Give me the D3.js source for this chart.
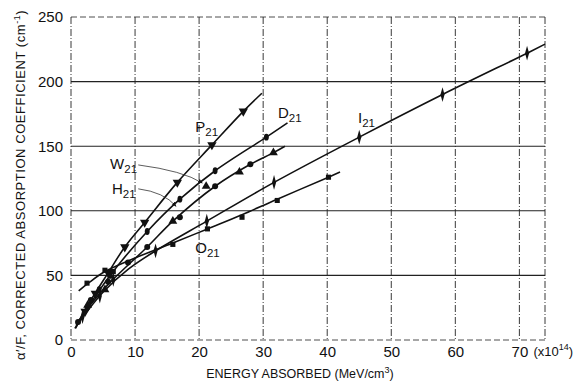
<!DOCTYPE html>
<html>
<head>
<meta charset="utf-8">
<script src="https://cdn.jsdelivr.net/npm/d3@7"></script>
<style>
body { margin: 0; background: #fff; }
text { font-family: 'Liberation Sans', Arial, sans-serif; fill: #111; }
</style>
</head>
<body>
<div class="container"></div>
<script>
// tick values
var xTicks = [0, 10, 20, 30, 40, 50, 60, 70];
var yTicks = [0, 50, 100, 150, 200, 250];

// measured points, [energy (x10^14 MeV/cm3), alpha'/F (cm-1)]
var p21Points = [[2.2, 22], [3.8, 36], [5.8, 52], [8.4, 72], [11.5, 91], [16.6, 122], [22, 151], [26.9, 177]];
var d21Points = [[2.5, 25], [4.4, 39], [6.1, 50], [11.9, 84], [17, 109], [22.5, 131], [30.5, 157]];
var w21Points = [[2.6, 27], [5.3, 39], [15.9, 92], [21.1, 119], [26.3, 130], [31.6, 145]];
var h21Points = [[1.1, 14], [3.1, 31], [5.8, 45], [8.9, 60], [11.9, 72], [17, 95], [22.5, 119], [28, 136]];
var i21Points = [[1.8, 18], [4.5, 34], [6.6, 47], [13.2, 69], [21.2, 92], [31.7, 122], [45, 157], [58, 190], [71.2, 222]];
var o21Points = [[2.5, 44], [5.3, 54], [6.6, 53], [15.9, 74], [21.3, 86], [26.7, 95], [32.2, 108], [40.2, 126]];

// hand drawn curves
var p21Curve = [[0.7, 9], [3, 30], [5.8, 52], [8.4, 72], [11.5, 91], [16.6, 122], [22, 151], [26.9, 177], [29.8, 191]];
var d21Curve = [[0.8, 12], [3, 28], [6.1, 50], [11.9, 84], [17, 109], [22.5, 131], [30.5, 157], [33.8, 168]];
var w21Curve = [[0.8, 11], [3, 27], [6, 44], [11.9, 72], [15.9, 92], [22.5, 119], [28, 136], [31.6, 145], [33.4, 150]];
var i21Curve = [[0.6, 9], [2.5, 22], [5, 37], [9, 55], [13.2, 69], [21.2, 92], [31.7, 122], [45, 157], [58, 190], [71.2, 222], [74, 229]];
var o21Curve = [[1.2, 38], [2.7, 44], [5.3, 53], [10, 63.5], [15.9, 75], [21.3, 86], [26.7, 97], [32.2, 109], [40.2, 126], [42, 130]];

const WIDTH = 586;
const HEIGHT = 381;

var series = [
	{name: 'P', sub: '21', points: p21Points, curve: p21Curve, shape: 'down'},
	{name: 'D', sub: '21', points: d21Points, curve: d21Curve, shape: 'oval'},
	{name: 'W', sub: '21', points: w21Points, curve: w21Curve, shape: 'up'},
	{name: 'H', sub: '21', points: h21Points, curve: null, shape: 'circle'},
	{name: 'I', sub: '21', points: i21Points, curve: i21Curve, shape: 'diamond'},
	{name: 'O', sub: '21', points: o21Points, curve: o21Curve, shape: 'square'}
];

var svg = d3.select('.container').append('svg')
	.attr('width', WIDTH)
	.attr('height', HEIGHT);

var xScale = d3.scaleLinear().domain([0, 74]).range([71, 545]);
var yScale = d3.scaleLinear().domain([0, 250]).range([340, 17]);

// grid
var grid = svg.append('g').attr('stroke', '#222').attr('fill', 'none');
grid.selectAll('line.v').data(xTicks.concat([74])).enter().append('line')
	.attr('x1', function(d){ return xScale(d); })
	.attr('x2', function(d){ return xScale(d); })
	.attr('y1', yScale(250)).attr('y2', yScale(0))
	.attr('stroke-width', 0.9)
	.attr('stroke-dasharray', '7,2,1,2');
grid.selectAll('line.h').data(yTicks).enter().append('line')
	.attr('y1', function(d){ return yScale(d); })
	.attr('y2', function(d){ return yScale(d); })
	.attr('x1', xScale(0)).attr('x2', xScale(74))
	.attr('stroke-width', function(d){ return (d == 0 || d == 250) ? 0.8 : 1.1; })
	.attr('stroke-dasharray', function(d){ return (d == 0 || d == 250) ? '6,3' : null; });

// axes (labels only)
var xAxis = d3.axisBottom(xScale).tickValues(xTicks).tickSize(0).tickPadding(6);
var yAxis = d3.axisLeft(yScale).tickValues(yTicks).tickSize(0).tickPadding(8);

var gx = svg.append('g').attr('transform', 'translate(0,' + yScale(0) + ')').call(xAxis);
var gy = svg.append('g').attr('transform', 'translate(' + xScale(0) + ',0)').call(yAxis);
[gx, gy].forEach(function(g){
	g.select('.domain').remove();
	g.selectAll('text').style('font-size', '15px').style('font-family', "'Liberation Sans', Arial, sans-serif").attr('fill', '#111');
});

var mult = svg.append('text')
	.attr('x', xScale(70) + 14).attr('y', yScale(0) + 16)
	.style('font-size', '13px');
mult.append('tspan').text('(x10');
mult.append('tspan').attr('dy', -6).style('font-size', '9px').text('14');
mult.append('tspan').attr('dy', 6).text(')');

var xt = svg.append('text')
	.attr('x', 300).attr('y', 378)
	.attr('text-anchor', 'middle')
	.style('font-size', '12.5px');
xt.append('tspan').text('ENERGY ABSORBED  (MeV/cm');
xt.append('tspan').attr('dy', -5).style('font-size', '9px').text('3');
xt.append('tspan').attr('dy', 5).text(')');

var yt = svg.append('text')
	.attr('transform', 'translate(25,360) rotate(-90)')
	.style('font-size', '13px')
	.style('letter-spacing', '0.55px');
yt.append('tspan').text('α′/F, CORRECTED ABSORPTION COEFFICIENT  (cm');
yt.append('tspan').attr('dy', -5).style('font-size', '9px').text('-1');
yt.append('tspan').attr('dy', 5).text(')');

// curves
var line = d3.line()
	.x(function(d){ return xScale(d[0]); })
	.y(function(d){ return yScale(d[1]); })
	.curve(d3.curveCatmullRom.alpha(0.5));

svg.append('g').selectAll('path').data(series.filter(function(s){ return s.curve; }))
	.enter().append('path')
	.attr('d', function(s){ return line(s.curve); })
	.attr('fill', 'none')
	.attr('stroke', '#111')
	.attr('stroke-width', 1.6);

// markers
var symbols = {
	down: {type: d3.symbolTriangle, size: 38, t: 'rotate(180)'},
	up: {type: d3.symbolTriangle, size: 34, t: ''},
	oval: {type: d3.symbolCircle, size: 26, t: 'scale(0.85,1.2)'},
	circle: {type: d3.symbolCircle, size: 28, t: ''},
	diamond: {type: d3.symbolDiamond, size: 40, t: 'scale(0.6,1.25)'},
	square: {type: d3.symbolSquare, size: 26, t: ''}
};

series.forEach(function(s){
	var sym = symbols[s.shape];
	svg.append('g').selectAll('path').data(s.points)
		.enter().append('path')
		.attr('d', d3.symbol().type(sym.type).size(sym.size))
		.attr('transform', function(d){
			return 'translate(' + xScale(d[0]) + ',' + yScale(d[1]) + ') ' + sym.t;
		})
		.attr('fill', '#111');
});

// series labels
var labels = [
	{s: 0, x: 19.4, y: 161},
	{s: 1, x: 32.3, y: 172},
	{s: 2, x: 6.1, y: 132},
	{s: 3, x: 6.4, y: 113},
	{s: 4, x: 44.8, y: 168},
	{s: 5, x: 19.4, y: 67}
];
labels.forEach(function(l){
	var s = series[l.s];
	var t = svg.append('text')
		.attr('x', xScale(l.x)).attr('y', yScale(l.y))
		.style('font-size', '15px');
	t.append('tspan').text(s.name);
	t.append('tspan').attr('dy', 4).style('font-size', '11.5px').text(s.sub);
});

// leader arrows for W21 and H21
svg.append('defs').append('marker')
	.attr('id', 'arrow').attr('viewBox', '0 0 10 10')
	.attr('refX', 9).attr('refY', 5)
	.attr('markerWidth', 6).attr('markerHeight', 6)
	.attr('orient', 'auto')
	.append('path').attr('d', 'M0,1 L10,5 L0,9 Z').attr('fill', '#111');

var leaders = [
	[[10.5, 135.5], [17.5, 131], [20.5, 121.5]],
	[[10.5, 117], [14.5, 114.5], [16.4, 103.5]]
];
leaders.forEach(function(p){
	svg.append('path')
		.attr('d', 'M' + xScale(p[0][0]) + ',' + yScale(p[0][1]) +
			' Q' + xScale(p[1][0]) + ',' + yScale(p[1][1]) +
			' ' + xScale(p[2][0]) + ',' + yScale(p[2][1]))
		.attr('fill', 'none')
		.attr('stroke', '#333')
		.attr('stroke-width', 0.8)
		.attr('marker-end', 'url(#arrow)');
});
</script>
</body>
</html>
